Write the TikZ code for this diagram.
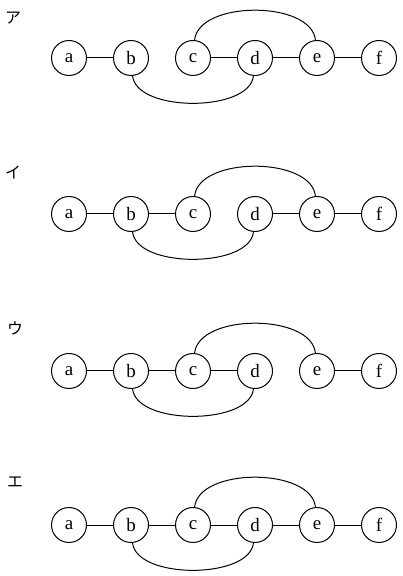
\documentclass[tikz,border=0pt]{standalone}
\usepackage{fontspec}
\setmainfont{Liberation Serif}
\newfontfamily\jpfont{Noto Sans CJK JP}
\usepackage{tikz}
\usetikzlibrary{calc}
\tikzset{
  vtx/.style={circle, draw=black, line width=1pt, minimum size=35bp, inner sep=0pt, font=\fontsize{19}{21}\selectfont},
  line/.style={draw=black, line width=1pt},
  arcup/.style={line, out=84, in=96, looseness=0.85},
  arcdown/.style={line, out=-84, in=-96, looseness=0.78},
  lbl/.style={font=\jpfont\fontsize{16}{18}\selectfont, inner sep=0pt}
}
\begin{document}
\begin{tikzpicture}[x=1bp, y=1bp]
  \useasboundingbox (0,0) rectangle (402,576);

  % ア
  \node[lbl] (L1) at (13,558) {ア};
  \node[vtx] (a1) at (69,518) {a};
  \node[vtx] (b1) at (131,518) {b};
  \node[vtx] (c1) at (193,518) {c};
  \node[vtx] (d1) at (255,518) {d};
  \node[vtx] (e1) at (317,518) {e};
  \node[vtx] (f1) at (379,518) {f};
  \draw[line] (a1)--(b1);
  \draw[line] (c1)--(d1);
  \draw[line] (d1)--(e1);
  \draw[line] (e1)--(f1);
  \draw[arcup] (c1.85) to (e1.95);
  \draw[arcdown] (b1.275) to (d1.265);

  % イ
  \node[lbl] (L2) at (13,403) {イ};
  \node[vtx] (a2) at (69,362) {a};
  \node[vtx] (b2) at (131,362) {b};
  \node[vtx] (c2) at (193,362) {c};
  \node[vtx] (d2) at (255,362) {d};
  \node[vtx] (e2) at (317,362) {e};
  \node[vtx] (f2) at (379,362) {f};
  \draw[line] (a2)--(b2);
  \draw[line] (b2)--(c2);
  \draw[line] (d2)--(e2);
  \draw[line] (e2)--(f2);
  \draw[arcup] (c2.85) to (e2.95);
  \draw[arcdown] (b2.275) to (d2.265);

  % ウ
  \node[lbl] (L3) at (15,248) {ウ};
  \node[vtx] (a3) at (69,205) {a};
  \node[vtx] (b3) at (131,205) {b};
  \node[vtx] (c3) at (193,205) {c};
  \node[vtx] (d3) at (255,205) {d};
  \node[vtx] (e3) at (317,205) {e};
  \node[vtx] (f3) at (379,205) {f};
  \draw[line] (a3)--(b3);
  \draw[line] (b3)--(c3);
  \draw[line] (c3)--(d3);
  \draw[line] (e3)--(f3);
  \draw[arcup] (c3.85) to (e3.95);
  \draw[arcdown] (b3.275) to (d3.265);

  % エ
  \node[lbl] (L4) at (15,94) {エ};
  \node[vtx] (a4) at (69,51) {a};
  \node[vtx] (b4) at (131,51) {b};
  \node[vtx] (c4) at (193,51) {c};
  \node[vtx] (d4) at (255,51) {d};
  \node[vtx] (e4) at (317,51) {e};
  \node[vtx] (f4) at (379,51) {f};
  \draw[line] (a4)--(b4);
  \draw[line] (b4)--(c4);
  \draw[line] (c4)--(d4);
  \draw[line] (d4)--(e4);
  \draw[line] (e4)--(f4);
  \draw[arcup] (c4.85) to (e4.95);
  \draw[arcdown] (b4.275) to (d4.265);
\end{tikzpicture}
\end{document}
